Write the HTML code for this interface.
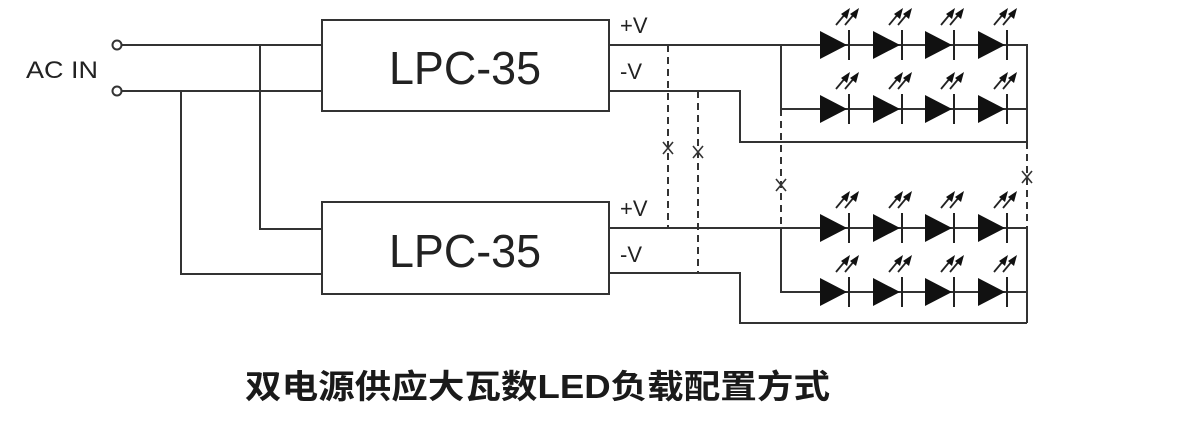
<!DOCTYPE html>
<html><head><meta charset="utf-8"><style>
html,body{margin:0;padding:0;background:#fff;}
svg{display:block;}
</style></head><body>
<svg width="1190" height="439" viewBox="0 0 1190 439" xmlns="http://www.w3.org/2000/svg">
<defs>
<g id="led">
  <polygon points="0,-14 0,14 27,0" fill="#111"/>
  <line x1="29" y1="-15" x2="29" y2="15" stroke="#222" stroke-width="2"/>
  <line x1="16" y1="-20" x2="26" y2="-32" stroke="#222" stroke-width="1.8"/>
  <polygon points="30,-37 21,-31 27,-26" fill="#111"/>
  <line x1="25" y1="-20" x2="35" y2="-32" stroke="#222" stroke-width="1.8"/>
  <polygon points="39,-37 30,-31 36,-26" fill="#111"/>
</g>
<g id="row">
  <use href="#led" x="820"/><use href="#led" x="873"/><use href="#led" x="925"/><use href="#led" x="978"/>
</g>
</defs>
<g fill="none" stroke="#333" stroke-width="2">
  <circle cx="117" cy="45" r="4.5"/>
  <circle cx="117" cy="91" r="4.5"/>
  <polyline points="122,45 322,45"/>
  <polyline points="122,91 322,91"/>
  <polyline points="260,45 260,229 322,229"/>
  <polyline points="181,91 181,274 322,274"/>
  <rect x="322" y="20" width="287" height="91"/>
  <rect x="322" y="202" width="287" height="92"/>
  <polyline points="609,45 1027,45 1027,142"/>
  <polyline points="781,45 781,109 1027,109"/>
  <polyline points="609,91 740,91 740,142 1027,142"/>
  <polyline points="609,228 1027,228 1027,323"/>
  <polyline points="781,228 781,292 1027,292"/>
  <polyline points="609,273 740,273 740,323 1027,323"/>
  <g stroke-dasharray="7,5">
    <line x1="668" y1="45" x2="668" y2="228"/>
    <line x1="698" y1="91" x2="698" y2="273"/>
    <line x1="781" y1="109" x2="781" y2="228"/>
    <line x1="1027" y1="142" x2="1027" y2="228"/>
  </g>
  <g stroke-width="1.6">
    <path d="M663,142 L673,154 M673,142 L663,154"/>
    <path d="M693,146 L703,158 M703,146 L693,158"/>
    <path d="M776,179 L786,191 M786,179 L776,191"/>
    <path d="M1022,171 L1032,183 M1032,171 L1022,183"/>
  </g>
</g>
<use href="#row" y="45"/>
<use href="#row" y="109"/>
<use href="#row" y="228"/>
<use href="#row" y="292"/>
<g font-family="Liberation Sans, sans-serif" fill="#222">
  <text x="26" y="78" font-size="24" textLength="72" lengthAdjust="spacingAndGlyphs">AC IN</text>
  <text x="465" y="84" font-size="46" text-anchor="middle" textLength="152" lengthAdjust="spacingAndGlyphs">LPC-35</text>
  <text x="465" y="267" font-size="46" text-anchor="middle" textLength="152" lengthAdjust="spacingAndGlyphs">LPC-35</text>
  <text x="620" y="33" font-size="22">+V</text>
  <text x="620" y="79" font-size="22">-V</text>
  <text x="620" y="216" font-size="22">+V</text>
  <text x="620" y="262" font-size="22">-V</text>
</g>
<text x="245" y="398" font-size="33" font-weight="bold" fill="#1a1a1a" textLength="585" lengthAdjust="spacingAndGlyphs" font-family="Liberation Sans, Noto Sans CJK SC, sans-serif">双电源供应大瓦数LED负载配置方式</text>
</svg>
</body></html>
